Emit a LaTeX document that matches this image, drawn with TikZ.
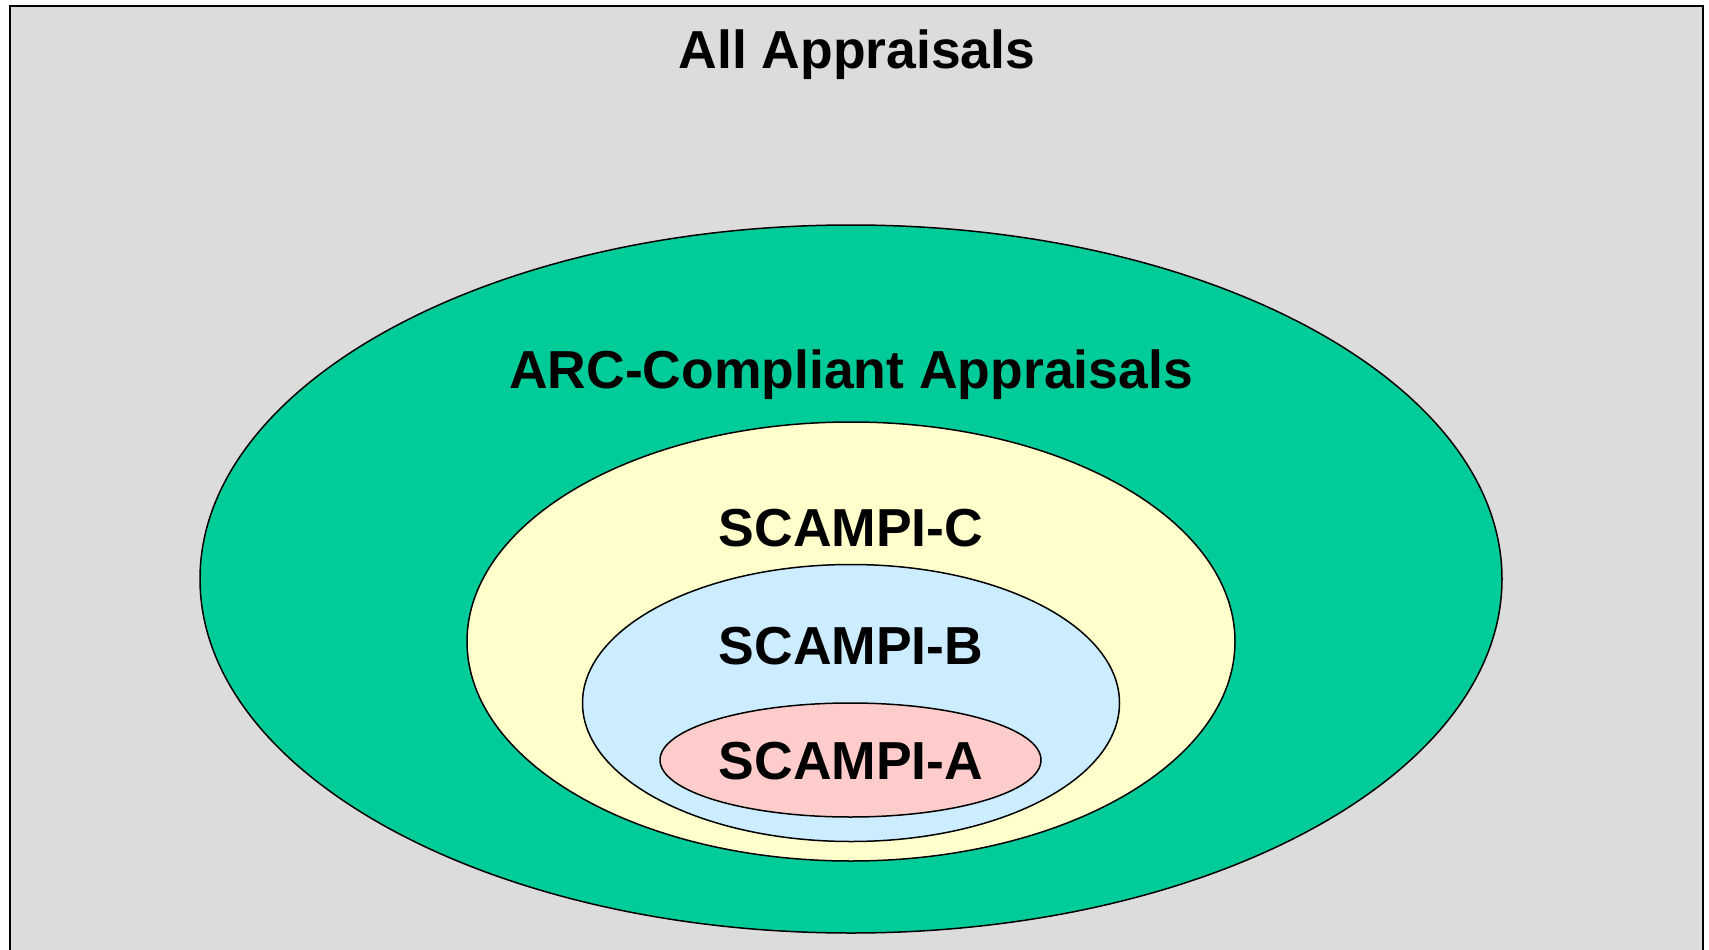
\documentclass[tikz,border=0pt]{standalone}
\usepackage{fontspec}
\setmainfont{Liberation Sans}
\usepackage{xcolor}
\usetikzlibrary{positioning}

\definecolor{allgray}{HTML}{DCDCDC}
\definecolor{arcgreen}{HTML}{00CC99}
\definecolor{cyellow}{HTML}{FFFFCC}
\definecolor{bblue}{HTML}{CCECFF}
\definecolor{apink}{HTML}{FFCCCC}

\begin{document}
\begin{tikzpicture}[x=1pt, y=-1pt,
        lbl/.style={anchor=base, font=\fontsize{53.5}{60}\selectfont\bfseries},
        set/.style={draw=black, line width=1.5pt}]
    \useasboundingbox (0,0) rectangle (1709,950);

    % outer frame
    \draw[fill=allgray, line width=2pt] (10,6) rectangle (1703,980);

    % nested sets
    \draw[set, fill=arcgreen] (851,579) ellipse [x radius=651, y radius=354];
    \draw[set, fill=cyellow] (851,641.5) ellipse [x radius=384, y radius=219.5];
    \draw[set, fill=bblue] (851,703) ellipse [x radius=268.5, y radius=138.5];
    \draw[set, fill=apink] (850.5,760) ellipse [x radius=190.5, y radius=57];

    % labels
    \node[lbl] (all) at (857,69) {All Appraisals};
    \node[lbl] (arc) at (851,388) {ARC-Compliant Appraisals};
    \node[lbl] (scc) at (851,546) {SCAMPI-C};
    \node[lbl] (scb) at (851,664.5) {SCAMPI-B};
    \node[lbl] (sca) at (851,779) {SCAMPI-A};
\end{tikzpicture}
\end{document}
